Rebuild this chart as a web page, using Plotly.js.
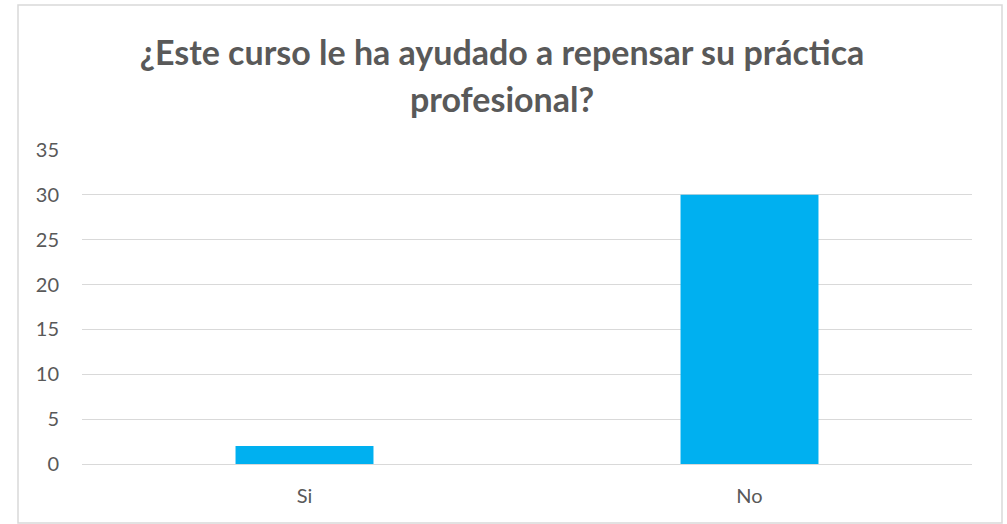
<!DOCTYPE html>
<html>
<head>
<meta charset="utf-8">
<script src="https://cdn.plot.ly/plotly-3.0.1.min.js"></script>
<style>html,body{margin:0;padding:0;background:#fff;}#chart{width:1007px;height:524px;}</style>
</head>
<body>
<div id="chart"></div>
<script>
const categories = ["Si", "No"];
const values = [2, 30];
const yTicks = [0, 5, 10, 15, 20, 25, 30, 35];
const titleLine1 = "¿Este curso le ha ayudado a repensar su práctica";
const titleLine2 = "profesional?";

const W = 1007, H = 524;
const m = {l: 82, r: 35, t: 150, b: 60};
const pw = W - m.l - m.r, ph = H - m.t - m.b;
function px(x){ return (x - m.l) / pw; }
function py(y){ return (H - m.b - y) / ph; }

const FONT = "Lato, 'Open Sans', sans-serif";
const GREY = "#595959";

const trace = {
  type: "bar",
  x: categories,
  y: values,
  marker: {color: "#00B0F0"},
  width: 0.31,
  hoverinfo: "none"
};

const layout = {
  width: W, height: H,
  margin: m,
  paper_bgcolor: "#ffffff",
  plot_bgcolor: "#ffffff",
  showlegend: false,
  font: {family: FONT, color: GREY},
  title: {
    text: titleLine1,
    font: {family: FONT, size: 34, color: GREY, weight: "bold"},
    x: 502 / W, xanchor: "center", xref: "container",
    y: 1 - 53 / H, yanchor: "middle", yref: "container"
  },
  annotations: [{
    text: titleLine2, showarrow: false,
    font: {family: FONT, size: 34, color: GREY, weight: "bold"},
    xref: "paper", yref: "paper", x: px(502), xanchor: "center",
    y: py(98), yanchor: "middle"
  }],
  xaxis: {
    type: "category",
    showgrid: false, zeroline: false, showline: false,
    ticks: "",
    ticklabelstandoff: 18,
    tickfont: {family: FONT, size: 20, color: GREY},
    fixedrange: true
  },
  yaxis: {
    range: [0, 35],
    tickvals: yTicks,
    ticktext: yTicks.map(String),
    showgrid: true, gridcolor: "#d9d9d9", gridwidth: 1,
    zeroline: true, zerolinecolor: "#d9d9d9", zerolinewidth: 1,
    showline: false, ticks: "",
    ticklabelstandoff: 22,
    tickfont: {family: FONT, size: 20, color: GREY},
    fixedrange: true
  },
  shapes: [{
    type: "rect", xref: "paper", yref: "paper",
    x0: px(18), x1: px(1002), y0: py(523), y1: py(5),
    line: {color: "#d9d9d9", width: 1.5}, fillcolor: "rgba(0,0,0,0)", layer: "below"
  }]
};

Plotly.newPlot("chart", [trace], layout, {staticPlot: true, displayModeBar: false});
</script>
</body>
</html>
